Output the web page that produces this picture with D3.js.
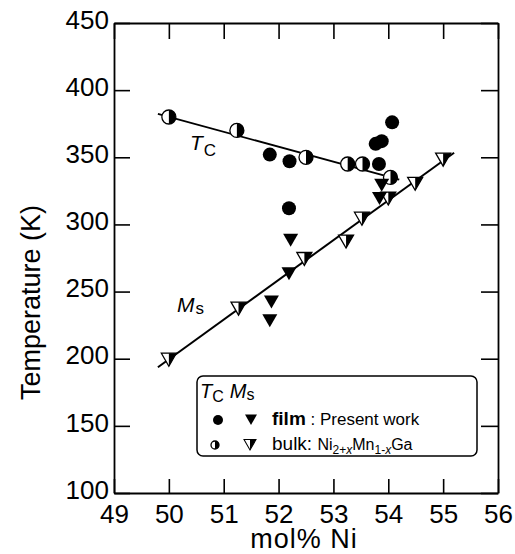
<!DOCTYPE html>
<html>
<head>
<meta charset="utf-8">
<script src="https://cdn.jsdelivr.net/npm/d3@7/dist/d3.min.js"></script>
<style>
  body { margin: 0; background: #fff; }
  text { font-family: "Liberation Sans", Arial, sans-serif; fill: #000; }
</style>
</head>
<body>
<div id="chart"></div>
<script>
// x: mol% Ni, y: temperature (K)
const xTicks = [49, 50, 51, 52, 53, 54, 55, 56];
const yTicks = [100, 150, 200, 250, 300, 350, 400, 450];

const bulkTcX = [50.0, 51.24, 52.5, 53.26, 53.53, 54.04];
const bulkTcY = [380, 370, 350, 345, 345, 335];

const filmTcX = [51.84, 52.2, 52.19, 54.07, 53.77, 53.88, 53.83];
const filmTcY = [352, 347, 312, 376, 360, 362, 345];

const bulkMsX = [50.0, 51.27, 52.47, 53.23, 53.52, 54.0, 54.49, 55.0];
const bulkMsY = [200, 238, 275, 288, 305, 320, 331, 349];

const filmMsX = [52.22, 52.19, 51.87, 51.84, 53.88, 53.84];
const filmMsY = [289, 264, 243, 229, 330, 320];

// fitted lines (end points)
const tcLineX = [49.8, 54.2];
const tcLineY = [382.4, 333.3];
const msLineX = [49.8, 55.2];
const msLineY = [193.6, 353.4];

const margin = {top: 23, right: 17, bottom: 61, left: 114},
      W = 515, H = 554,
      width = W - margin.left - margin.right,
      height = H - margin.top - margin.bottom;

const svg = d3.select("#chart")
  .append("svg")
    .attr("width", W)
    .attr("height", H)
  .append("g")
    .attr("transform", `translate(${margin.left}, ${margin.top})`);

const x = d3.scaleLinear().domain([49, 56]).range([0, width]);
const y = d3.scaleLinear().domain([100, 450]).range([height, 0]);

// axes with inward ticks
const styleAxis = g => {
  g.select(".domain").attr("stroke", "#000").attr("stroke-width", 1.8);
  g.selectAll(".tick line").attr("stroke", "#000").attr("stroke-width", 1.6);
};

svg.append("g")
  .attr("transform", `translate(0, ${height})`)
  .call(d3.axisBottom(x).tickValues(xTicks).tickFormat(d3.format("d"))
    .tickSize(-14).tickSizeOuter(0).tickPadding(12))
  .call(styleAxis)
  .selectAll("text")
    .style("font-size", "26px")
    .style("font-family", "Liberation Sans, Arial, sans-serif");

svg.append("g")
  .call(d3.axisTop(x).tickValues(xTicks).tickSize(-16).tickSizeOuter(0).tickFormat(""))
  .call(styleAxis);

svg.append("g")
  .call(d3.axisLeft(y).tickValues(yTicks).tickSize(-16).tickSizeOuter(0).tickPadding(5))
  .call(styleAxis)
  .selectAll("text")
    .attr("dy", "0.2em")
    .style("font-size", "26px")
    .style("font-family", "Liberation Sans, Arial, sans-serif");

svg.append("g")
  .attr("transform", `translate(${width}, 0)`)
  .call(d3.axisRight(y).tickValues(yTicks).tickSize(-17).tickSizeOuter(0).tickFormat(""))
  .call(styleAxis);

// axis titles
svg.append("text")
  .attr("x", width / 2 - 2)
  .attr("y", height + 55)
  .attr("text-anchor", "middle")
  .style("font-size", "27px")
  .style("letter-spacing", "1px")
  .text("mol% Ni");

svg.append("text")
  .attr("transform", `translate(${-74}, ${377}) rotate(-90)`)
  .attr("text-anchor", "start")
  .style("font-size", "27px")
  .text("Temperature (K)");

// fit lines
const line = d3.line().x(d => x(d[0])).y(d => y(d[1]));
svg.append("path")
  .datum(d3.zip(tcLineX, tcLineY))
  .attr("d", line).attr("fill", "none").attr("stroke", "#000").attr("stroke-width", 1.8);
svg.append("path")
  .datum(d3.zip(msLineX, msLineY))
  .attr("d", line).attr("fill", "none").attr("stroke", "#000").attr("stroke-width", 2);

// marker helpers
const triPath = "M-7.5,-5.5L7.5,-5.5L0,7.5Z";
const triHalf = "M0,-5.5L7.5,-5.5L0,7.5Z";
const r = 7;
const halfCircle = rr => `M0,${-rr}A${rr},${rr} 0 0 1 0,${rr}Z`;

function bulkCircle(g, rr) {
  g.append("circle").attr("r", rr).attr("fill", "#fff").attr("stroke", "#000").attr("stroke-width", 1.3);
  g.append("path").attr("d", halfCircle(rr)).attr("fill", "#000");
}
function bulkTri(g, s) {
  g.append("path").attr("d", triPath).attr("transform", `scale(${s})`)
    .attr("fill", "#fff").attr("stroke", "#000").attr("stroke-width", 1.3 / s);
  g.append("path").attr("d", triHalf).attr("transform", `scale(${s})`).attr("fill", "#000");
}

svg.selectAll(".btc").data(d3.zip(bulkTcX, bulkTcY)).enter()
  .append("g").attr("transform", d => `translate(${x(d[0])},${y(d[1])})`)
  .each(function() { bulkCircle(d3.select(this), r); });

svg.selectAll(".ftc").data(d3.zip(filmTcX, filmTcY)).enter()
  .append("circle")
    .attr("cx", d => x(d[0])).attr("cy", d => y(d[1]))
    .attr("r", r).attr("fill", "#000");

svg.selectAll(".bms").data(d3.zip(bulkMsX, bulkMsY)).enter()
  .append("g").attr("transform", d => `translate(${x(d[0])},${y(d[1])})`)
  .each(function() { bulkTri(d3.select(this), 1); });

svg.selectAll(".fms").data(d3.zip(filmMsX, filmMsY)).enter()
  .append("path")
    .attr("d", triPath)
    .attr("transform", d => `translate(${x(d[0])},${y(d[1])})`)
    .attr("fill", "#000");

// in-plot labels
const tcLab = svg.append("text").attr("x", 76).attr("y", 127);
tcLab.append("tspan").style("font-size", "21px").style("font-style", "italic").text("T");
tcLab.append("tspan").style("font-size", "17px").attr("dy", 6).attr("dx", 1).text("C");

const msLab = svg.append("text").attr("x", 63).attr("y", 289);
msLab.append("tspan").style("font-size", "21px").style("font-style", "italic").text("M");
msLab.append("tspan").style("font-size", "17px").attr("dy", 2).attr("dx", 1).text("s");

// legend
const lg = svg.append("g").attr("transform", `translate(${197 - margin.left}, ${376 - margin.top})`);
lg.append("rect")
  .attr("width", 280).attr("height", 80).attr("rx", 6)
  .attr("fill", "#fff").attr("stroke", "#000").attr("stroke-width", 1.5);

const lh = lg.append("text").attr("x", 3).attr("y", 22);
lh.append("tspan").style("font-size", "20px").style("font-style", "italic").text("T");
lh.append("tspan").style("font-size", "16px").attr("dy", 4).text("C");
lh.append("tspan").style("font-size", "20px").style("font-style", "italic").attr("dy", -4).attr("dx", 6).text("M");
lh.append("tspan").style("font-size", "16px").attr("dy", 2).text("s");

lg.append("circle").attr("cx", 21).attr("cy", 44).attr("r", 5).attr("fill", "#000");
lg.append("path").attr("d", triPath).attr("transform", "translate(54,43) scale(0.8)").attr("fill", "#000");

const b1 = lg.append("g").attr("transform", "translate(18,69)");
bulkCircle(b1, 4);
const b2 = lg.append("g").attr("transform", "translate(53,68) scale(0.8)");
bulkTri(b2, 1);

const t1 = lg.append("text").attr("x", 75).attr("y", 49);
t1.append("tspan").style("font-size", "19px").style("font-weight", "bold").text("film");
t1.append("tspan").style("font-size", "17px").text(" : Present work");

const t2 = lg.append("text").attr("x", 75).attr("y", 74);
t2.append("tspan").style("font-size", "19px").text("bulk: ");
t2.append("tspan").style("font-size", "16px").text("Ni");
t2.append("tspan").style("font-size", "12px").attr("dy", 4).text("2+");
t2.append("tspan").style("font-size", "12px").style("font-style", "italic").text("x");
t2.append("tspan").style("font-size", "16px").attr("dy", -4).text("Mn");
t2.append("tspan").style("font-size", "12px").attr("dy", 4).text("1-");
t2.append("tspan").style("font-size", "12px").style("font-style", "italic").text("x");
t2.append("tspan").style("font-size", "16px").attr("dy", -4).text("Ga");
</script>
</body>
</html>
